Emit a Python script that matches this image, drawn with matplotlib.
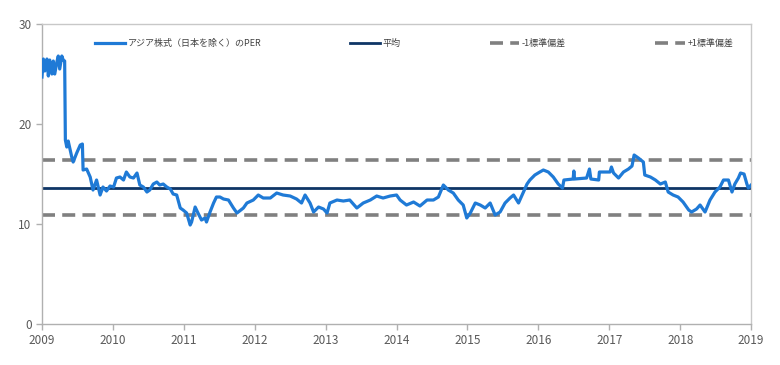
import numpy as np
import matplotlib
matplotlib.use('Agg')
import matplotlib.pyplot as plt

plt.rcParams['font.family'] = ['Noto Sans CJK JP', 'DejaVu Sans']

# decimal years / PER values
years = [
    2009.00, 2009.02, 2009.04, 2009.07, 2009.09, 2009.11, 2009.14, 2009.16, 2009.18, 2009.21,
    2009.23, 2009.25, 2009.28, 2009.30, 2009.32, 2009.33, 2009.35, 2009.37, 2009.42, 2009.44,
    2009.49, 2009.54, 2009.57, 2009.58, 2009.63, 2009.68, 2009.72, 2009.77, 2009.82, 2009.86,
    2009.91, 2009.96, 2010.01, 2010.05, 2010.10, 2010.15, 2010.19, 2010.24, 2010.29, 2010.34,
    2010.38, 2010.43, 2010.48, 2010.52, 2010.57, 2010.62, 2010.66, 2010.71, 2010.76, 2010.81,
    2010.85, 2010.90, 2010.95, 2010.99, 2011.04, 2011.09, 2011.11, 2011.16, 2011.20, 2011.25,
    2011.30, 2011.32, 2011.37, 2011.42, 2011.46, 2011.51, 2011.56, 2011.63, 2011.70, 2011.75,
    2011.84, 2011.89, 2011.98, 2012.05, 2012.12, 2012.22, 2012.31, 2012.40, 2012.50, 2012.59,
    2012.66, 2012.71, 2012.78, 2012.83, 2012.90, 2012.97, 2013.02, 2013.06, 2013.16, 2013.25,
    2013.34, 2013.44, 2013.53, 2013.63, 2013.72, 2013.81, 2013.91, 2014.00, 2014.05, 2014.14,
    2014.24, 2014.33, 2014.43, 2014.52, 2014.59, 2014.66, 2014.73, 2014.80, 2014.87, 2014.94,
    2014.99, 2015.04, 2015.11, 2015.18, 2015.25, 2015.32, 2015.39, 2015.46, 2015.53, 2015.60,
    2015.65, 2015.72, 2015.79, 2015.84, 2015.88, 2015.95, 2016.02, 2016.07, 2016.14, 2016.21,
    2016.28, 2016.34, 2016.36, 2016.49, 2016.50, 2016.51, 2016.68, 2016.72, 2016.74, 2016.85,
    2016.86, 2017.01, 2017.03, 2017.06, 2017.13, 2017.20, 2017.27, 2017.32, 2017.35, 2017.41,
    2017.48, 2017.50, 2017.58, 2017.65, 2017.72, 2017.79, 2017.83, 2017.90, 2017.97, 2018.04,
    2018.12, 2018.16, 2018.23, 2018.28, 2018.35, 2018.42, 2018.49, 2018.56, 2018.61, 2018.68,
    2018.73, 2018.77, 2018.82, 2018.85, 2018.90, 2018.94, 2018.96, 2019.00,
]
per = [
    24.7, 26.5, 25.3, 26.5, 24.8, 26.4, 25.0, 26.3, 25.0, 26.2,
    26.8, 25.5, 26.8, 26.4, 26.3, 18.4, 17.7, 18.3, 16.7, 16.2,
    17.1, 17.9, 18.0, 15.4, 15.5, 14.7, 13.4, 14.4, 12.9, 13.7,
    13.3, 13.8, 13.7, 14.6, 14.7, 14.4, 15.2, 14.7, 14.6, 15.1,
    13.9, 13.7, 13.2, 13.4, 14.0, 14.2, 13.9, 14.0, 13.7, 13.5,
    13.0, 12.9, 11.6, 11.4, 11.1, 9.9, 10.2, 11.7, 11.1, 10.4,
    10.6, 10.2, 11.2, 12.1, 12.7, 12.7, 12.5, 12.4, 11.6, 11.1,
    11.6, 12.1, 12.4, 12.9, 12.6, 12.6, 13.1, 12.9, 12.8, 12.5,
    12.1, 12.9, 12.1, 11.2, 11.7, 11.5, 11.1, 12.1, 12.4, 12.3,
    12.4, 11.6, 12.1, 12.4, 12.8, 12.6, 12.8, 12.9, 12.4, 11.9,
    12.2, 11.8, 12.4, 12.4, 12.7, 13.9, 13.4, 13.1, 12.4, 11.9,
    10.6, 11.1, 12.1, 11.9, 11.6, 12.1, 10.9, 11.2, 12.1, 12.6,
    12.9, 12.1, 13.2, 14.0, 14.4, 14.9, 15.2, 15.4, 15.2, 14.7,
    14.0, 13.6, 14.4, 14.5, 15.3, 14.5, 14.6, 15.5, 14.5, 14.4,
    15.2, 15.2, 15.7, 15.1, 14.6, 15.2, 15.5, 15.8, 16.9, 16.6,
    16.2, 14.9, 14.7, 14.4, 14.0, 14.2, 13.2, 12.9, 12.7, 12.2,
    11.4, 11.2, 11.5, 11.9, 11.2, 12.4, 13.2, 13.7, 14.4, 14.4,
    13.2, 14.0, 14.6, 15.1, 15.0, 14.0, 13.6, 13.9,
]
mean_per = 13.63
sd_per = 2.73

series_label = 'アジア株式（日本を除く）のPER'
mean_label = '平均'
low_label = '-1標準偏差'
high_label = '+1標準偏差'
year_ticks = list(range(2009, 2020))
y_ticks = [0, 10, 20, 30]

fig = plt.figure(figsize=(7.8, 3.65), dpi=100)
ax = fig.add_axes([0.0538, 0.1123, 0.9092, 0.8219])

ax.plot(years, per, color='#1f7ad6', lw=2.3, label=series_label, zorder=3)
ax.axhline(mean_per, color='#0e3566', lw=2.0, label=mean_label, zorder=2)
ax.axhline(mean_per - sd_per, color='#808080', lw=2.6, ls=(0, (3.6, 2.0)), label=low_label, zorder=2)
ax.axhline(mean_per + sd_per, color='#808080', lw=2.6, ls=(0, (3.6, 2.0)), label=high_label, zorder=2)

ax.set_xlim(2009, 2019)
ax.set_ylim(0, 30)
ax.set_xticks(year_ticks)
ax.set_xticklabels([str(y) for y in year_ticks])
ax.set_yticks(y_ticks)

for s in ax.spines.values():
    s.set_color('#c8c8c8')
    s.set_linewidth(1.0)
ax.spines['left'].set_color('#b0b0b0')
ax.spines['bottom'].set_color('#b0b0b0')
ax.tick_params(axis='both', colors='#b0b0b0', labelcolor='#595959', labelsize=8.5, length=4, width=1)

leg = ax.legend(loc='center', ncol=4, mode='expand', bbox_to_anchor=(0.075, 0.905, 0.9, 0.06),
                frameon=False, fontsize=6.5, handlelength=3.3, handletextpad=0.3,
                borderpad=0, borderaxespad=0)
for t in leg.get_texts():
    t.set_color('#404040')

fig.savefig('out.png', dpi=100)
plt.close(fig)
